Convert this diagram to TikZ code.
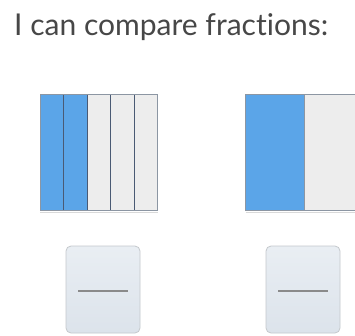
\documentclass[tikz,border=0pt]{standalone}
\usepackage{fontspec}
\setmainfont[Ligatures=NoCommon]{Lato}
\definecolor{fblue}{HTML}{5BA5E8}
\definecolor{fgrey}{HTML}{EDEDED}
\definecolor{fedge}{HTML}{8C96A3}
\definecolor{fdiv}{HTML}{4A5A74}
\definecolor{btop}{HTML}{E9EEF3}
\definecolor{bbot}{HTML}{DCE3EB}
\definecolor{bedge}{HTML}{C4C8CC}
\definecolor{bdash}{HTML}{8A8A8A}
\tikzset{
  part/.style={draw=fdiv, line width=0.9pt},
  outline/.style={draw=fedge, line width=1pt},
  answerbox/.style={draw=bedge, line width=0.8pt, rounded corners=5pt, top color=btop, bottom color=bbot},
  dashline/.style={draw=bdash, line width=1.6pt},
}
\begin{document}
\begin{tikzpicture}[x=1pt,y=1pt]
\useasboundingbox (0,0) rectangle (355,-335);
\clip (0,0) rectangle (355,-335);
\fill[white] (0,0) rectangle (355,-335);
% title
\node[anchor=base west, inner sep=0pt, text=black!72] (title) at (14,-35)
  {\resizebox{314pt}{!}{\fontsize{26}{30}\selectfont I can compare fractions:}};
% left fraction bar: 2/5
\fill[fblue] (40,-94) rectangle (87,-210.5);
\fill[fgrey] (87,-94) rectangle (157.5,-210.5);
\draw[part] (63.5,-94) -- (63.5,-210.5);
\draw[part] (87,-94) -- (87,-210.5);
\draw[part] (110.7,-94) -- (110.7,-210.5);
\draw[part] (134.2,-94) -- (134.2,-210.5);
\draw[outline] (40,-94) rectangle (157.5,-210.5);
\draw[black!15, line width=1pt] (40,-212) -- (157.5,-212);
% right fraction bar: 1/2
\fill[fblue] (245.7,-94) rectangle (304,-210.5);
\fill[fgrey] (304,-94) rectangle (362.3,-210.5);
\draw[part, draw=fedge] (304,-94) -- (304,-210.5);
\draw[outline] (245.7,-94) rectangle (362.3,-210.5);
\draw[black!15, line width=1pt] (245.7,-212) -- (362.3,-212);
% answer boxes
\node[answerbox, minimum width=74pt, minimum height=87pt, inner sep=0pt] (b1) at (103,-289.5) {};
\node[answerbox, minimum width=74pt, minimum height=87pt, inner sep=0pt] (b2) at (303,-289.5) {};
\draw[dashline] ([xshift=-24.7pt,yshift=-1.5pt]b1.center) -- ([xshift=24.7pt,yshift=-1.5pt]b1.center);
\draw[dashline] ([xshift=-25pt,yshift=-1.5pt]b2.center) -- ([xshift=25pt,yshift=-1.5pt]b2.center);
\end{tikzpicture}
\end{document}
